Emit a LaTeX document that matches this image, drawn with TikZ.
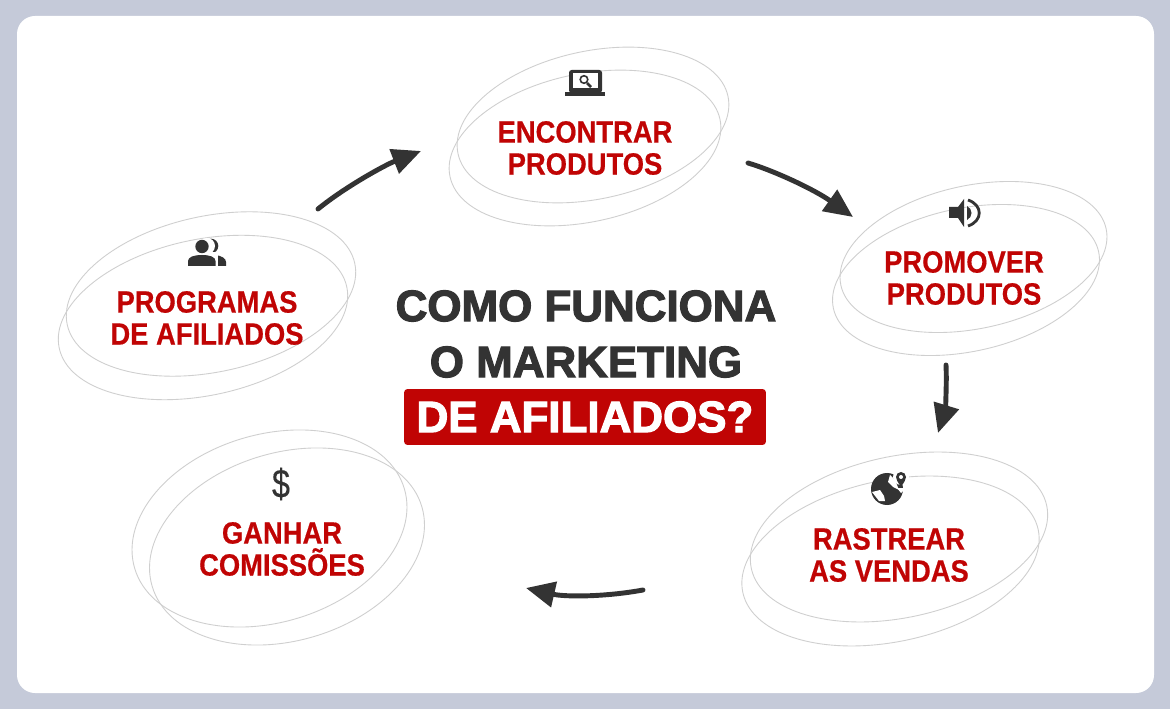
\documentclass[tikz,border=0pt]{standalone}
\usepackage{fontspec}
\setmainfont{Liberation Sans}
\newfontfamily\stepfont[FakeStretch=0.89,FakeBold=0.5]{Liberation Sans}
\newfontfamily\dollarfont[FakeStretch=0.8,FakeBold=0.2]{Liberation Sans}
\newfontfamily\titlefont[FakeBold=2.6]{Liberation Sans}
\usetikzlibrary{arrows.meta}
\definecolor{pagegray}{HTML}{C5CAD9}
\definecolor{darkgray}{HTML}{333333}
\definecolor{ringgray}{HTML}{CFCFCF}
\definecolor{brandred}{HTML}{C00404}
\tikzset{
  ring/.style={draw=ringgray,line width=0.5pt},
  steplabel/.style={text=brandred,font=\stepfont\fontsize{17.5}{18.2}\selectfont\bfseries,align=center},
  titleline/.style={text=darkgray,font=\titlefont\fontsize{25}{30}\selectfont\bfseries},
  flow/.style={draw=darkgray,line width=2.8pt,line cap=round,-{Triangle[length=16.4pt,width=14.4pt]}},
  icon/.style={fill=darkgray,draw=none}
}
\begin{document}
\begin{tikzpicture}[x=0.02cm,y=-0.02cm]
      \useasboundingbox (0,0) rectangle (1170,709);
      \fill[pagegray] (0,0) rectangle (1170,709);
      \fill[white,rounded corners=0.36cm] (17,16) rectangle (1154,693);

      \draw[ring,rotate around={12:(593,125)}] (593,125) ellipse [x radius=138,y radius=74];
      \draw[ring,rotate around={12:(585,148)}] (585,148) ellipse [x radius=138,y radius=74];
      \draw[ring,rotate around={12:(973.5,257)}] (973.5,257) ellipse [x radius=135.6,y radius=71.6];
      \draw[ring,rotate around={12:(966,280)}] (966,280) ellipse [x radius=135.6,y radius=71.6];
      \draw[ring,rotate around={12:(899,537)}] (899,537) ellipse [x radius=151,y radius=80.7];
      \draw[ring,rotate around={12:(890.5,561)}] (890.5,561) ellipse [x radius=151,y radius=80.7];
      \draw[ring,rotate around={12:(211,294)}] (211,294) ellipse [x radius=147,y radius=78];
      \draw[ring,rotate around={12:(203,317.5)}] (203,317.5) ellipse [x radius=147,y radius=78];
      \draw[ring,rotate around={16.4:(269.5,528.5)}] (269.5,528.5) ellipse [x radius=140.6,y radius=94];
      \draw[ring,rotate around={16.4:(287,546.5)}] (287,546.5) ellipse [x radius=140.6,y radius=94];

      \node[steplabel] (encontrar) at (585,148) {ENCONTRAR\\PRODUTOS};
      \node[steplabel] (promover) at (964,278) {PROMOVER\\PRODUTOS};
      \node[steplabel] (rastrear) at (889,555) {RASTREAR\\AS VENDAS};
      \node[steplabel] (programas) at (207,318) {PROGRAMAS\\DE AFILIADOS};
      \node[steplabel] (ganhar) at (282,549) {GANHAR\\COMISSÕES};

      \node[titleline] (como) at (586,306) {COMO FUNCIONA};
      \node[titleline] (marketing) at (586,362) {O MARKETING};
      \node[fill=brandred,rounded corners=2pt,text=white,font=\titlefont\fontsize{25}{30}\selectfont\bfseries,
        minimum width=7.24cm,minimum height=1.12cm,inner sep=0pt] (afiliados) at (585,417) {DE AFILIADOS?};

      \coordinate (progstart) at (318,209);
      \coordinate (progend) at (421,151);
      \coordinate (encstart) at (748,163);
      \coordinate (encend) at (853,217);
      \coordinate (promstart) at (946,365);
      \coordinate (promend) at (938,433);
      \coordinate (raststart) at (643,590);
      \coordinate (rastend) at (526,588);
      \draw[flow] (progstart) .. controls (345,187) and (385,165) .. (progend);
      \draw[flow] (encstart) .. controls (775,171) and (815,190) .. (encend);
      \draw[flow] (promstart) .. controls (947,385) and (945,410) .. (promend);
      \draw[flow] (raststart) .. controls (605,597) and (565,597) .. (rastend);

      \fill[icon,rounded corners=1.5pt] (569,70) rectangle (602,93);
      \fill[white] (573,73.5) rectangle (598,88.5);
      \fill[icon] (565,92) rectangle (605,96);
      \draw[darkgray,line width=0.9pt] (584,79.5) circle (3.8);
      \draw[darkgray,line width=1.5pt] (587,83) -- (591,87);

      \fill[icon] (949,207) -- (958,207) -- (964,199) -- (964,227) -- (958,218) -- (949,218) -- cycle;
      \draw[darkgray,line width=1.6pt] (968,200) .. controls (983,205) and (983,221) .. (968,226);
      \fill[icon] (967,206) .. controls (973,209) and (973,217) .. (967,220) -- cycle;

      \fill[icon] (887,489) circle (16);
      \fill[white] (890,475) -- (895,480) -- (899,490) -- (893,487) -- (888,482) -- cycle;
      \fill[white] (872,492) -- (880,490) -- (884,496) -- (885,501) -- (879,501) -- cycle;
      \fill[white] (901,477) circle (8);
      \fill[white] (897,488) -- (906,488) -- (901,493) -- cycle;
      \fill[icon] (901,487) .. controls (898,482) and (896,480) .. (896,477) arc (180:360:5) .. controls (906,480) and (904,482) .. (901,487) -- cycle;
      \fill[white] (901,477) circle (2);

      \fill[icon] (211,246) circle (7.3);
      \fill[white] (207,246) circle (8);
      \fill[icon] (226,266) -- (226,262) .. controls (226,258) and (221,256) .. (216,255) -- (216,266) -- cycle;
      \fill[white] (186,252) rectangle (218,268);
      \fill[icon] (188,266) -- (188,261) .. controls (188,257) and (194,255) .. (202,255) .. controls (210,255) and (215.5,257) .. (215.5,261) -- (215.5,266) -- cycle;
      \fill[icon] (202,246.5) circle (6.7);

      \node[text=darkgray,font=\dollarfont\fontsize{23}{23}\selectfont] (dollar) at (281,484) {\$};
    \end{tikzpicture}
\end{document}
